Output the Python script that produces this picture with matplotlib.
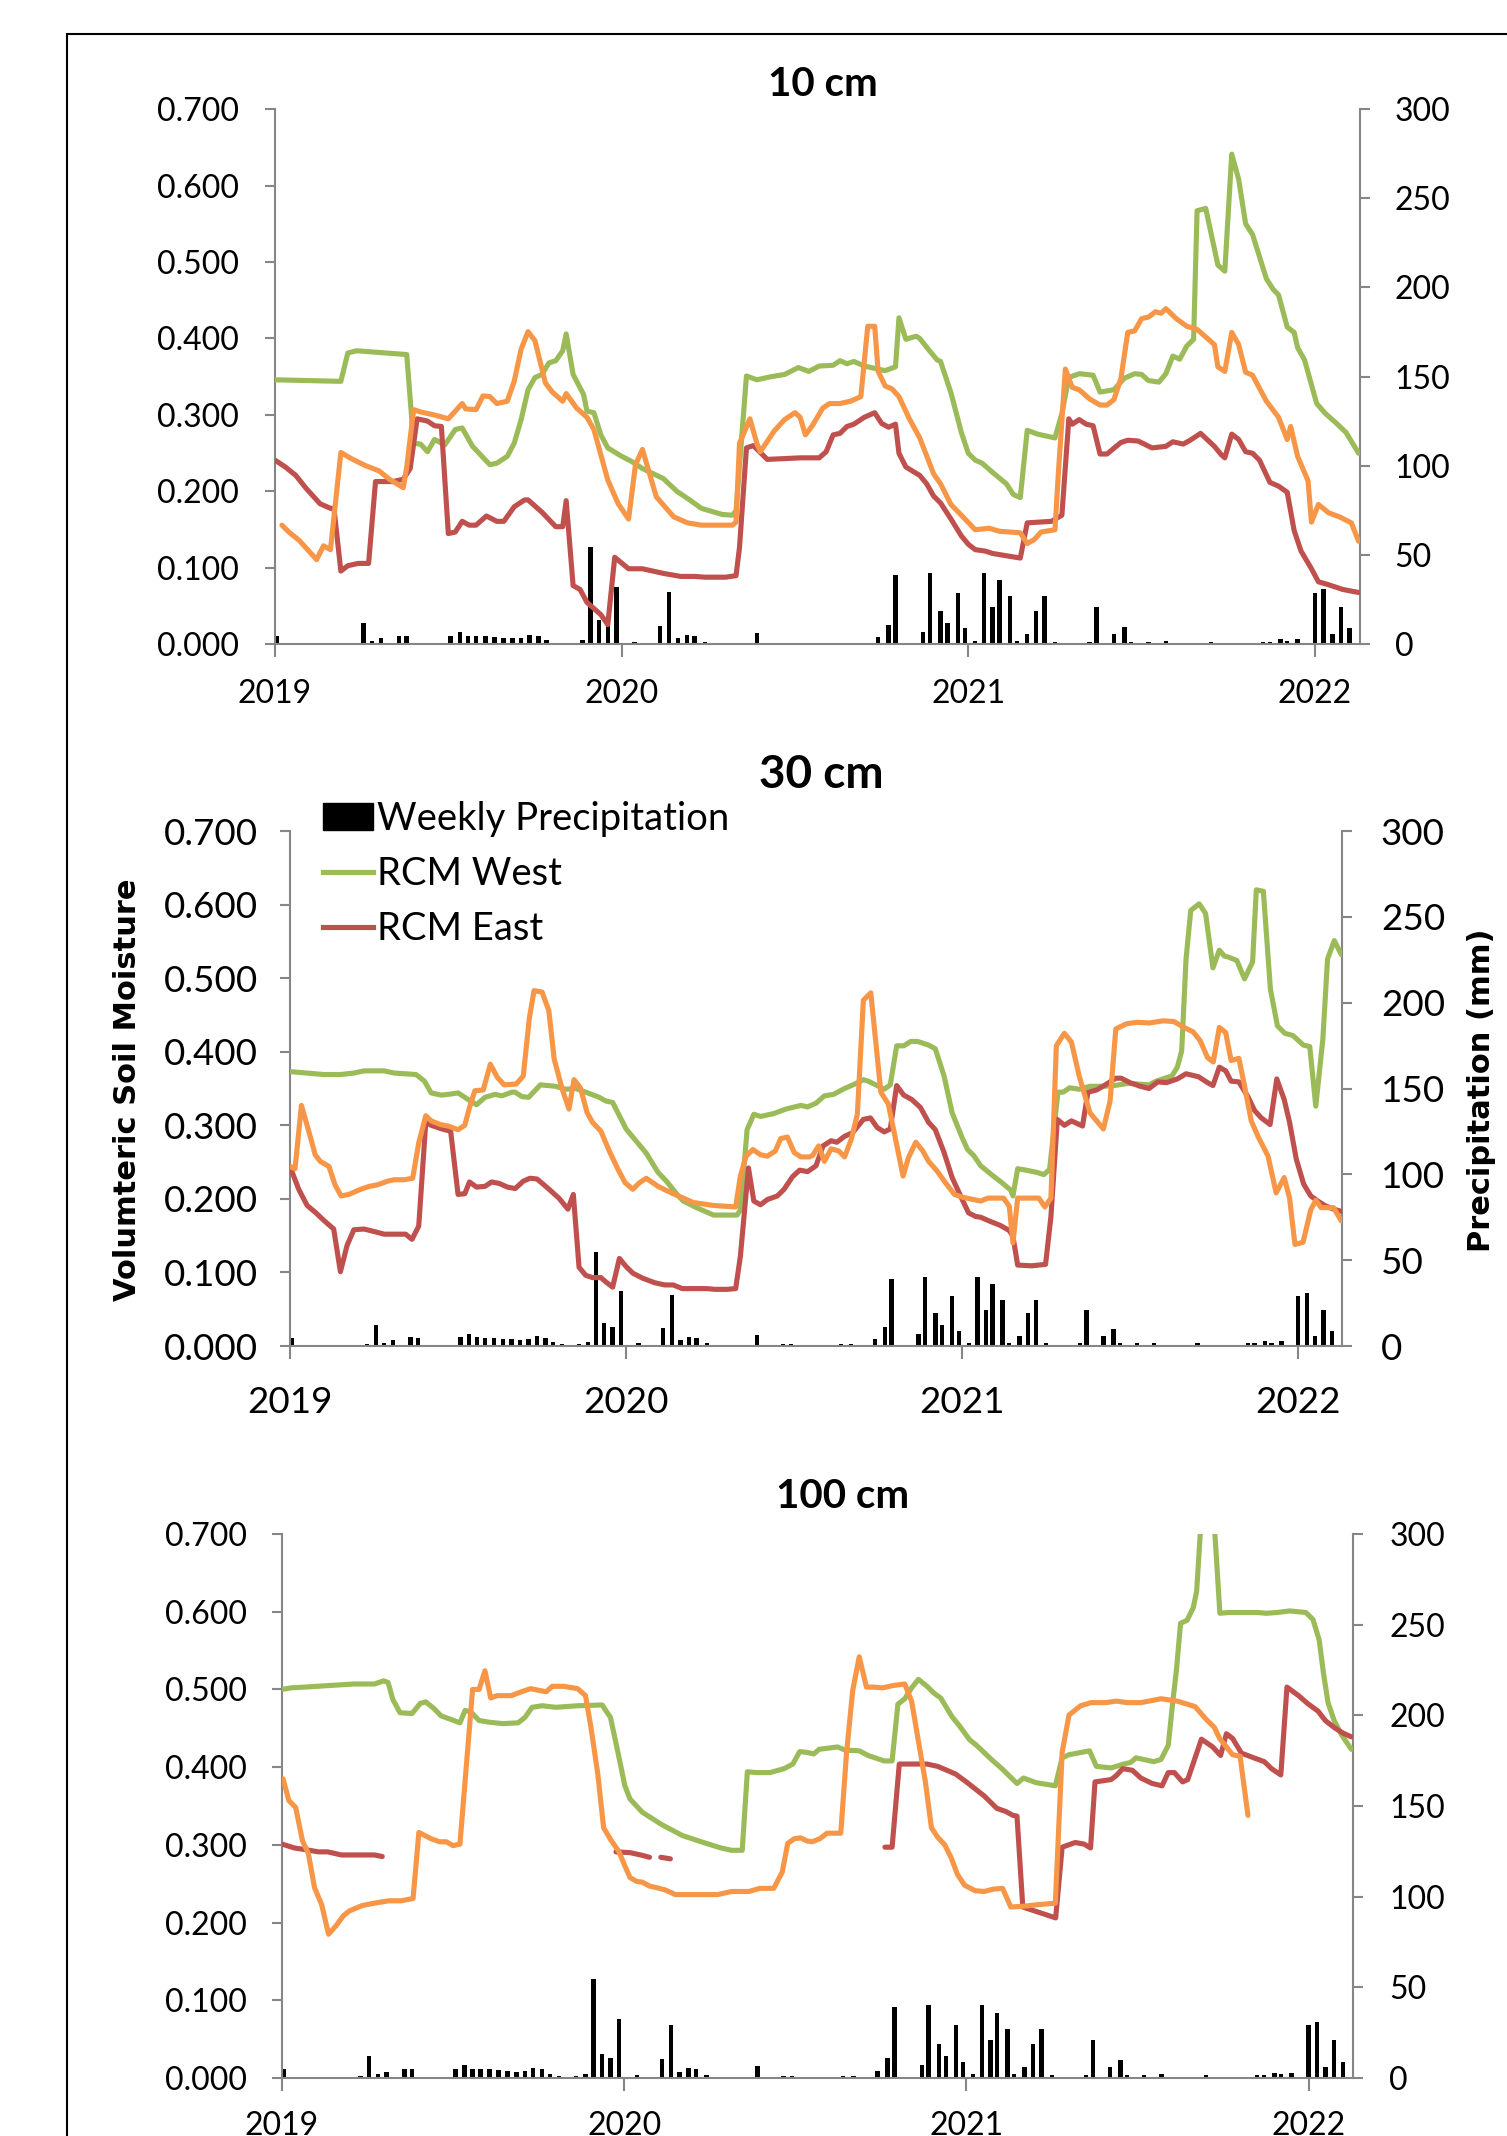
import numpy as np
import matplotlib
matplotlib.use("Agg")
import matplotlib.pyplot as plt
from matplotlib.patches import Patch, Rectangle
from matplotlib.lines import Line2D
from matplotlib.ticker import FormatStrFormatter

GREEN = "#9BBB59"
RED = "#C0504D"
ORANGE = "#F79646"
GREY = "#868686"
nan = np.nan

# weekly precipitation (mm), same in all three panels
precip_t = [2019.005, 2019.23, 2019.255, 2019.28, 2019.306, 2019.358, 2019.38, 2019.507,
            2019.533, 2019.557, 2019.58, 2019.607, 2019.633, 2019.659, 2019.685, 2019.71,
            2019.734, 2019.76, 2019.783, 2019.81, 2019.86, 2019.887, 2019.91, 2019.935,
            2019.96, 2019.985, 2020.037, 2020.11, 2020.137, 2020.162, 2020.188, 2020.21,
            2020.24, 2020.39, 2020.466, 2020.49, 2020.64, 2020.67, 2020.74, 2020.77,
            2020.79, 2020.87, 2020.89, 2020.92, 2020.94, 2020.97, 2020.99, 2021.02,
            2021.045, 2021.07, 2021.09, 2021.12, 2021.14, 2021.17, 2021.195, 2021.22,
            2021.25, 2021.35, 2021.37, 2021.42, 2021.45, 2021.47, 2021.52, 2021.57,
            2021.70, 2021.85, 2021.87, 2021.90, 2021.92, 2021.95, 2022.00, 2022.025,
            2022.05, 2022.075, 2022.10]
precip_mm = [4.7, 1, 12, 2, 3.4, 5, 4.7, 5,
             7, 5, 4.7, 4.7, 4.3, 3.8, 3.4, 3.8,
             5.6, 4.7, 2.3, 1, 1, 2.3, 54.5, 13.5,
             11.3, 32.3, 1.5, 10.3, 29.5, 3.4, 5.3, 4.7,
             1.5, 6.6, 1, 1, 1, 1, 4, 11,
             39, 7, 40, 19, 12, 29, 9, 2,
             40, 21, 36, 27, 2, 6, 19, 27,
             1.5, 1.5, 21, 6, 10, 1.5, 1.5, 2,
             1.5, 1.5, 1.5, 3, 2, 3, 29, 31,
             6, 21, 9]

# ---- 10 cm ----
west_10 = [(2019.00, 0.346), (2019.19, 0.344), (2019.21, 0.381), (2019.235, 0.384), (2019.38, 0.379),
           (2019.40, 0.263), (2019.42, 0.262), (2019.44, 0.252), (2019.46, 0.268), (2019.49, 0.261),
           (2019.52, 0.281), (2019.54, 0.283), (2019.57, 0.259), (2019.62, 0.235), (2019.64, 0.237),
           (2019.67, 0.246), (2019.69, 0.263), (2019.71, 0.294), (2019.73, 0.333), (2019.75, 0.349),
           (2019.77, 0.353), (2019.79, 0.368), (2019.81, 0.371), (2019.83, 0.384), (2019.84, 0.406),
           (2019.86, 0.353), (2019.89, 0.327), (2019.90, 0.305), (2019.92, 0.303), (2019.94, 0.274),
           (2019.96, 0.257), (2020.00, 0.246), (2020.03, 0.239), (2020.06, 0.230), (2020.12, 0.217),
           (2020.16, 0.200), (2020.19, 0.191), (2020.23, 0.178), (2020.29, 0.170), (2020.32, 0.169),
           (2020.33, 0.175), (2020.36, 0.351), (2020.39, 0.346), (2020.43, 0.350), (2020.47, 0.353),
           (2020.51, 0.362), (2020.54, 0.357), (2020.57, 0.364), (2020.61, 0.365), (2020.63, 0.371),
           (2020.65, 0.367), (2020.67, 0.370), (2020.70, 0.364), (2020.76, 0.358), (2020.79, 0.363),
           (2020.80, 0.427), (2020.82, 0.399), (2020.85, 0.403), (2020.86, 0.400), (2020.89, 0.383),
           (2020.91, 0.372), (2020.92, 0.370), (2020.95, 0.329), (2020.98, 0.277), (2021.00, 0.250),
           (2021.02, 0.241), (2021.04, 0.237), (2021.07, 0.225), (2021.11, 0.210), (2021.13, 0.196),
           (2021.15, 0.192), (2021.17, 0.280), (2021.20, 0.275), (2021.25, 0.270), (2021.27, 0.302),
           (2021.29, 0.349), (2021.32, 0.354), (2021.36, 0.352), (2021.38, 0.330), (2021.42, 0.333),
           (2021.45, 0.348), (2021.48, 0.354), (2021.50, 0.353), (2021.52, 0.345), (2021.55, 0.343),
           (2021.57, 0.354), (2021.59, 0.377), (2021.61, 0.373), (2021.63, 0.390), (2021.65, 0.399),
           (2021.66, 0.567), (2021.685, 0.570), (2021.72, 0.496), (2021.74, 0.488), (2021.76, 0.641),
           (2021.78, 0.608), (2021.80, 0.550), (2021.82, 0.536), (2021.86, 0.478), (2021.88, 0.464),
           (2021.895, 0.457), (2021.92, 0.415), (2021.94, 0.408), (2021.95, 0.388), (2021.97, 0.372),
           (2022.005, 0.315), (2022.03, 0.302), (2022.06, 0.290), (2022.09, 0.277), (2022.126, 0.250)]

east_10 = [(2019.00, 0.241), (2019.03, 0.232), (2019.06, 0.221), (2019.09, 0.204), (2019.13, 0.184),
           (2019.16, 0.178), (2019.17, 0.178), (2019.19, 0.096), (2019.21, 0.103), (2019.24, 0.106),
           (2019.27, 0.106), (2019.29, 0.213), (2019.34, 0.213), (2019.37, 0.216), (2019.39, 0.230),
           (2019.41, 0.295), (2019.44, 0.292), (2019.46, 0.286), (2019.48, 0.285), (2019.50, 0.145),
           (2019.52, 0.147), (2019.54, 0.161), (2019.56, 0.156), (2019.58, 0.156), (2019.61, 0.168),
           (2019.64, 0.161), (2019.66, 0.161), (2019.69, 0.180), (2019.72, 0.189), (2019.73, 0.189),
           (2019.77, 0.173), (2019.81, 0.154), (2019.83, 0.154), (2019.84, 0.188), (2019.86, 0.077),
           (2019.88, 0.072), (2019.90, 0.055), (2019.94, 0.039), (2019.96, 0.026), (2019.98, 0.114),
           (2020.02, 0.099), (2020.06, 0.099), (2020.12, 0.093), (2020.17, 0.089), (2020.21, 0.089),
           (2020.24, 0.088), (2020.30, 0.088), (2020.33, 0.090), (2020.34, 0.127), (2020.36, 0.257),
           (2020.38, 0.260), (2020.42, 0.242), (2020.47, 0.243), (2020.515, 0.244), (2020.57, 0.244),
           (2020.59, 0.252), (2020.61, 0.274), (2020.63, 0.276), (2020.65, 0.285), (2020.67, 0.288),
           (2020.70, 0.297), (2020.73, 0.303), (2020.75, 0.289), (2020.77, 0.284), (2020.79, 0.288),
           (2020.80, 0.250), (2020.82, 0.232), (2020.86, 0.221), (2020.88, 0.210), (2020.90, 0.194),
           (2020.92, 0.185), (2020.95, 0.164), (2020.98, 0.142), (2021.00, 0.131), (2021.02, 0.124),
           (2021.05, 0.122), (2021.07, 0.119), (2021.15, 0.113), (2021.17, 0.159), (2021.24, 0.161),
           (2021.27, 0.169), (2021.29, 0.295), (2021.30, 0.288), (2021.32, 0.294), (2021.34, 0.288),
           (2021.36, 0.286), (2021.38, 0.249), (2021.40, 0.249), (2021.44, 0.264), (2021.46, 0.267),
           (2021.49, 0.266), (2021.53, 0.257), (2021.57, 0.259), (2021.59, 0.265), (2021.62, 0.262),
           (2021.64, 0.267), (2021.67, 0.276), (2021.71, 0.259), (2021.73, 0.248), (2021.74, 0.244),
           (2021.76, 0.275), (2021.78, 0.268), (2021.80, 0.252), (2021.82, 0.250), (2021.84, 0.241),
           (2021.87, 0.212), (2021.895, 0.207), (2021.92, 0.199), (2021.94, 0.149), (2021.96, 0.122),
           (2021.99, 0.099), (2022.01, 0.082), (2022.04, 0.078), (2022.08, 0.072), (2022.126, 0.068)]

orange_10 = [(2019.02, 0.156), (2019.04, 0.147), (2019.07, 0.136), (2019.10, 0.121), (2019.12, 0.111),
             (2019.14, 0.129), (2019.16, 0.124), (2019.19, 0.251), (2019.22, 0.243), (2019.26, 0.234),
             (2019.30, 0.227), (2019.33, 0.216), (2019.37, 0.205), (2019.38, 0.232), (2019.40, 0.307),
             (2019.42, 0.304), (2019.46, 0.300), (2019.50, 0.295), (2019.51, 0.300), (2019.54, 0.315),
             (2019.55, 0.308), (2019.58, 0.307), (2019.60, 0.325), (2019.62, 0.324), (2019.64, 0.315),
             (2019.67, 0.318), (2019.69, 0.344), (2019.71, 0.386), (2019.73, 0.409), (2019.75, 0.397),
             (2019.78, 0.342), (2019.80, 0.330), (2019.83, 0.318), (2019.84, 0.328), (2019.87, 0.309),
             (2019.90, 0.297), (2019.92, 0.281), (2019.96, 0.215), (2019.99, 0.184), (2020.02, 0.164),
             (2020.04, 0.235), (2020.06, 0.255), (2020.08, 0.224), (2020.10, 0.193), (2020.15, 0.167),
             (2020.19, 0.159), (2020.23, 0.156), (2020.32, 0.156), (2020.33, 0.160), (2020.34, 0.263),
             (2020.37, 0.295), (2020.39, 0.263), (2020.40, 0.252), (2020.44, 0.279), (2020.47, 0.294),
             (2020.50, 0.303), (2020.515, 0.297), (2020.53, 0.274), (2020.55, 0.286), (2020.58, 0.309),
             (2020.60, 0.315), (2020.63, 0.315), (2020.66, 0.318), (2020.69, 0.324), (2020.71, 0.416),
             (2020.73, 0.416), (2020.74, 0.357), (2020.76, 0.338), (2020.78, 0.334), (2020.80, 0.324),
             (2020.83, 0.295), (2020.86, 0.270), (2020.90, 0.223), (2020.92, 0.210), (2020.95, 0.183),
             (2020.98, 0.169), (2021.02, 0.150), (2021.06, 0.152), (2021.09, 0.148), (2021.15, 0.146),
             (2021.17, 0.132), (2021.19, 0.137), (2021.21, 0.147), (2021.25, 0.150), (2021.26, 0.225),
             (2021.28, 0.360), (2021.30, 0.336), (2021.32, 0.333), (2021.35, 0.321), (2021.38, 0.313),
             (2021.40, 0.313), (2021.42, 0.320), (2021.44, 0.347), (2021.46, 0.408), (2021.48, 0.410),
             (2021.50, 0.426), (2021.52, 0.428), (2021.54, 0.435), (2021.556, 0.433), (2021.57, 0.439),
             (2021.60, 0.426), (2021.63, 0.416), (2021.66, 0.412), (2021.71, 0.392), (2021.72, 0.363),
             (2021.74, 0.357), (2021.76, 0.408), (2021.78, 0.392), (2021.80, 0.356), (2021.82, 0.352),
             (2021.86, 0.318), (2021.895, 0.297), (2021.92, 0.268), (2021.93, 0.285), (2021.95, 0.246),
             (2021.98, 0.214), (2021.99, 0.160), (2022.01, 0.183), (2022.04, 0.172), (2022.07, 0.167),
             (2022.105, 0.159), (2022.126, 0.135)]

# ---- 30 cm ----
west_30 = [(2019.00, 0.373), (2019.05, 0.371), (2019.10, 0.369), (2019.15, 0.369), (2019.19, 0.371),
           (2019.22, 0.374), (2019.28, 0.374), (2019.31, 0.371), (2019.375, 0.369), (2019.40, 0.360),
           (2019.42, 0.344), (2019.45, 0.341), (2019.47, 0.342), (2019.50, 0.344), (2019.53, 0.335),
           (2019.555, 0.328), (2019.58, 0.338), (2019.61, 0.342), (2019.63, 0.340), (2019.66, 0.345),
           (2019.67, 0.345), (2019.69, 0.339), (2019.71, 0.338), (2019.745, 0.355), (2019.79, 0.353),
           (2019.82, 0.349), (2019.85, 0.350), (2019.88, 0.345), (2019.92, 0.338), (2019.94, 0.333),
           (2019.96, 0.331), (2020.00, 0.295), (2020.02, 0.284), (2020.06, 0.262), (2020.095, 0.236),
           (2020.12, 0.224), (2020.15, 0.207), (2020.17, 0.197), (2020.21, 0.188), (2020.26, 0.178),
           (2020.33, 0.178), (2020.34, 0.185), (2020.36, 0.294), (2020.38, 0.315), (2020.40, 0.312),
           (2020.44, 0.316), (2020.475, 0.322), (2020.52, 0.327), (2020.54, 0.325), (2020.565, 0.330),
           (2020.59, 0.340), (2020.617, 0.342), (2020.65, 0.350), (2020.68, 0.356), (2020.706, 0.362),
           (2020.72, 0.360), (2020.747, 0.354), (2020.768, 0.349), (2020.786, 0.355), (2020.805, 0.408),
           (2020.826, 0.408), (2020.847, 0.414), (2020.867, 0.414), (2020.90, 0.409), (2020.92, 0.404),
           (2020.946, 0.367), (2020.97, 0.317), (2021.00, 0.283), (2021.016, 0.267), (2021.034, 0.259),
           (2021.055, 0.245), (2021.087, 0.233), (2021.118, 0.222), (2021.144, 0.212), (2021.151, 0.204),
           (2021.165, 0.241), (2021.19, 0.239), (2021.222, 0.236), (2021.243, 0.233), (2021.26, 0.240),
           (2021.285, 0.345), (2021.30, 0.345), (2021.32, 0.351), (2021.348, 0.349), (2021.38, 0.353),
           (2021.42, 0.353), (2021.452, 0.354), (2021.494, 0.357), (2021.525, 0.356), (2021.556, 0.355),
           (2021.577, 0.360), (2021.603, 0.364), (2021.624, 0.367), (2021.64, 0.379), (2021.653, 0.401),
           (2021.666, 0.526), (2021.68, 0.592), (2021.705, 0.601), (2021.724, 0.588), (2021.746, 0.514),
           (2021.765, 0.538), (2021.78, 0.530), (2021.79, 0.529), (2021.817, 0.524), (2021.84, 0.499),
           (2021.864, 0.522), (2021.875, 0.620), (2021.896, 0.618), (2021.917, 0.485), (2021.938, 0.435),
           (2021.96, 0.425), (2021.984, 0.422), (2022.015, 0.409), (2022.034, 0.407), (2022.052, 0.326),
           (2022.073, 0.417), (2022.087, 0.526), (2022.107, 0.551), (2022.128, 0.532)]

east_30 = [(2019.00, 0.244), (2019.026, 0.213), (2019.051, 0.191), (2019.077, 0.181), (2019.10, 0.171),
           (2019.13, 0.159), (2019.15, 0.101), (2019.17, 0.137), (2019.19, 0.158), (2019.22, 0.159),
           (2019.247, 0.156), (2019.28, 0.152), (2019.344, 0.152), (2019.363, 0.145), (2019.383, 0.163),
           (2019.404, 0.304), (2019.42, 0.300), (2019.452, 0.295), (2019.478, 0.292), (2019.50, 0.206),
           (2019.52, 0.207), (2019.534, 0.223), (2019.555, 0.216), (2019.58, 0.217), (2019.60, 0.223),
           (2019.622, 0.221), (2019.647, 0.216), (2019.67, 0.214), (2019.694, 0.224), (2019.714, 0.228),
           (2019.735, 0.227), (2019.766, 0.215), (2019.80, 0.201), (2019.827, 0.186), (2019.843, 0.206),
           (2019.86, 0.107), (2019.88, 0.096), (2019.90, 0.093), (2019.925, 0.093), (2019.94, 0.087),
           (2019.96, 0.080), (2019.98, 0.119), (2020.00, 0.108), (2020.02, 0.099), (2020.05, 0.092),
           (2020.085, 0.086), (2020.115, 0.083), (2020.14, 0.083), (2020.167, 0.078), (2020.24, 0.078),
           (2020.264, 0.077), (2020.30, 0.077), (2020.326, 0.078), (2020.34, 0.122), (2020.364, 0.242),
           (2020.38, 0.197), (2020.40, 0.192), (2020.42, 0.199), (2020.45, 0.204), (2020.47, 0.213),
           (2020.495, 0.230), (2020.516, 0.239), (2020.54, 0.237), (2020.565, 0.245), (2020.586, 0.272),
           (2020.61, 0.279), (2020.627, 0.277), (2020.65, 0.285), (2020.674, 0.290), (2020.706, 0.308),
           (2020.727, 0.310), (2020.747, 0.297), (2020.768, 0.291), (2020.786, 0.295), (2020.805, 0.354),
           (2020.826, 0.341), (2020.85, 0.335), (2020.876, 0.324), (2020.90, 0.304), (2020.92, 0.294),
           (2020.946, 0.263), (2020.97, 0.229), (2021.00, 0.199), (2021.019, 0.181), (2021.04, 0.176),
           (2021.055, 0.175), (2021.08, 0.170), (2021.113, 0.164), (2021.14, 0.157), (2021.151, 0.149),
           (2021.165, 0.110), (2021.207, 0.109), (2021.248, 0.111), (2021.264, 0.176), (2021.283, 0.308),
           (2021.304, 0.300), (2021.325, 0.306), (2021.358, 0.299), (2021.374, 0.345), (2021.40, 0.348),
           (2021.426, 0.355), (2021.457, 0.364), (2021.473, 0.364), (2021.499, 0.358), (2021.53, 0.353),
           (2021.556, 0.350), (2021.582, 0.359), (2021.608, 0.358), (2021.64, 0.363), (2021.666, 0.370),
           (2021.703, 0.366), (2021.73, 0.358), (2021.746, 0.354), (2021.765, 0.379), (2021.784, 0.374),
           (2021.80, 0.360), (2021.823, 0.359), (2021.85, 0.339), (2021.87, 0.320), (2021.89, 0.310),
           (2021.916, 0.301), (2021.936, 0.363), (2021.958, 0.335), (2021.974, 0.304), (2021.994, 0.254),
           (2022.016, 0.220), (2022.037, 0.204), (2022.058, 0.197), (2022.079, 0.191), (2022.105, 0.186),
           (2022.128, 0.183)]

orange_30 = [(2019.00, 0.244), (2019.015, 0.241), (2019.034, 0.327), (2019.057, 0.290), (2019.075, 0.260),
             (2019.09, 0.251), (2019.116, 0.244), (2019.134, 0.219), (2019.152, 0.204), (2019.175, 0.206),
             (2019.21, 0.213), (2019.236, 0.217), (2019.26, 0.219), (2019.29, 0.224), (2019.31, 0.226),
             (2019.34, 0.226), (2019.365, 0.228), (2019.383, 0.276), (2019.404, 0.313), (2019.42, 0.306),
             (2019.447, 0.301), (2019.47, 0.299), (2019.50, 0.294), (2019.52, 0.300), (2019.534, 0.324),
             (2019.55, 0.347), (2019.575, 0.348), (2019.596, 0.383), (2019.617, 0.365), (2019.637, 0.355),
             (2019.673, 0.356), (2019.694, 0.367), (2019.712, 0.445), (2019.726, 0.483), (2019.75, 0.481),
             (2019.77, 0.456), (2019.786, 0.390), (2019.81, 0.349), (2019.83, 0.322), (2019.845, 0.362),
             (2019.864, 0.351), (2019.884, 0.317), (2019.90, 0.304), (2019.925, 0.292), (2019.95, 0.265),
             (2019.976, 0.240), (2019.997, 0.222), (2020.02, 0.213), (2020.04, 0.222), (2020.06, 0.228),
             (2020.095, 0.217), (2020.135, 0.208), (2020.20, 0.195), (2020.26, 0.191), (2020.326, 0.189),
             (2020.34, 0.231), (2020.357, 0.258), (2020.377, 0.267), (2020.40, 0.260), (2020.42, 0.258),
             (2020.444, 0.265), (2020.46, 0.282), (2020.48, 0.284), (2020.50, 0.263), (2020.52, 0.257),
             (2020.547, 0.257), (2020.555, 0.259), (2020.573, 0.272), (2020.59, 0.251), (2020.61, 0.268),
             (2020.633, 0.265), (2020.65, 0.257), (2020.67, 0.281), (2020.688, 0.315), (2020.706, 0.470),
             (2020.728, 0.480), (2020.742, 0.417), (2020.758, 0.345), (2020.78, 0.329), (2020.80, 0.285),
             (2020.824, 0.231), (2020.84, 0.256), (2020.862, 0.277), (2020.883, 0.265), (2020.90, 0.251),
             (2020.925, 0.238), (2020.95, 0.222), (2020.977, 0.206), (2021.003, 0.202), (2021.034, 0.199),
             (2021.055, 0.197), (2021.076, 0.201), (2021.123, 0.201), (2021.14, 0.190), (2021.151, 0.140),
             (2021.165, 0.201), (2021.228, 0.201), (2021.246, 0.189), (2021.264, 0.201), (2021.28, 0.408),
             (2021.304, 0.425), (2021.325, 0.413), (2021.348, 0.367), (2021.38, 0.317), (2021.40, 0.306),
             (2021.42, 0.295), (2021.44, 0.333), (2021.457, 0.431), (2021.489, 0.438), (2021.52, 0.440),
             (2021.556, 0.439), (2021.598, 0.442), (2021.63, 0.441), (2021.66, 0.433), (2021.687, 0.427),
             (2021.708, 0.415), (2021.73, 0.392), (2021.747, 0.386), (2021.765, 0.433), (2021.784, 0.426),
             (2021.80, 0.388), (2021.823, 0.391), (2021.838, 0.358), (2021.86, 0.306), (2021.88, 0.285),
             (2021.91, 0.258), (2021.934, 0.208), (2021.958, 0.229), (2021.974, 0.201), (2021.99, 0.138),
             (2022.014, 0.141), (2022.037, 0.185), (2022.052, 0.198), (2022.068, 0.188), (2022.105, 0.188),
             (2022.128, 0.170)]

# ---- 100 cm ----
west_100 = [(2019.00, 0.500), (2019.026, 0.502), (2019.066, 0.503), (2019.138, 0.505), (2019.21, 0.507),
            (2019.27, 0.507), (2019.297, 0.511), (2019.31, 0.509), (2019.324, 0.487), (2019.345, 0.470),
            (2019.38, 0.469), (2019.404, 0.482), (2019.42, 0.484), (2019.445, 0.475), (2019.465, 0.466),
            (2019.496, 0.461), (2019.52, 0.457), (2019.535, 0.473), (2019.552, 0.471), (2019.576, 0.460),
            (2019.603, 0.458), (2019.644, 0.456), (2019.69, 0.457), (2019.71, 0.464), (2019.731, 0.477),
            (2019.76, 0.479), (2019.80, 0.477), (2019.864, 0.479), (2019.936, 0.480), (2019.946, 0.473),
            (2019.96, 0.464), (2019.987, 0.408), (2020.002, 0.376), (2020.017, 0.359), (2020.053, 0.342),
            (2020.11, 0.326), (2020.17, 0.312), (2020.232, 0.303), (2020.283, 0.296), (2020.314, 0.293),
            (2020.345, 0.293), (2020.36, 0.394), (2020.386, 0.393), (2020.426, 0.393), (2020.467, 0.398),
            (2020.493, 0.404), (2020.513, 0.420), (2020.534, 0.419), (2020.554, 0.417), (2020.57, 0.423),
            (2020.624, 0.426), (2020.645, 0.422), (2020.687, 0.421), (2020.713, 0.415), (2020.76, 0.408),
            (2020.783, 0.408), (2020.80, 0.481), (2020.82, 0.488), (2020.84, 0.502), (2020.86, 0.513),
            (2020.885, 0.504), (2020.906, 0.495), (2020.925, 0.489), (2020.958, 0.465), (2020.98, 0.453),
            (2021.01, 0.435), (2021.03, 0.428), (2021.073, 0.410), (2021.104, 0.398), (2021.148, 0.379),
            (2021.167, 0.386), (2021.204, 0.380), (2021.26, 0.376), (2021.28, 0.412), (2021.30, 0.416),
            (2021.36, 0.421), (2021.38, 0.401), (2021.423, 0.399), (2021.46, 0.404), (2021.48, 0.406),
            (2021.496, 0.412), (2021.548, 0.407), (2021.569, 0.410), (2021.59, 0.428), (2021.603, 0.483),
            (2021.614, 0.525), (2021.626, 0.585), (2021.645, 0.589), (2021.663, 0.605), (2021.673, 0.626),
            (2021.695, 0.780), (2021.715, 0.780), (2021.741, 0.598), (2021.767, 0.599), (2021.85, 0.599),
            (2021.877, 0.598), (2021.908, 0.599), (2021.945, 0.601), (2021.992, 0.599), (2022.013, 0.590),
            (2022.031, 0.564), (2022.044, 0.520), (2022.057, 0.483), (2022.075, 0.460), (2022.096, 0.442),
            (2022.125, 0.423)]

east_100 = [(2019.00, 0.301), (2019.036, 0.296), (2019.066, 0.294), (2019.107, 0.291), (2019.133, 0.291),
            (2019.174, 0.287), (2019.27, 0.287), (2019.293, 0.285), (2019.50, nan),
            (2019.976, 0.291), (2020.017, 0.290), (2020.048, 0.287), (2020.074, 0.284), (2020.09, nan),
            (2020.107, 0.284), (2020.135, 0.282), (2020.40, nan),
            (2020.762, 0.297), (2020.783, 0.297), (2020.804, 0.404), (2020.885, 0.404), (2020.916, 0.401),
            (2020.943, 0.396), (2020.969, 0.391), (2021.00, 0.381), (2021.026, 0.372), (2021.052, 0.363),
            (2021.089, 0.347), (2021.115, 0.343), (2021.136, 0.338), (2021.148, 0.337), (2021.165, 0.220),
            (2021.261, 0.206), (2021.28, 0.297), (2021.318, 0.303), (2021.344, 0.301), (2021.363, 0.296),
            (2021.376, 0.381), (2021.423, 0.384), (2021.438, 0.389), (2021.457, 0.398), (2021.485, 0.396),
            (2021.51, 0.386), (2021.543, 0.379), (2021.572, 0.376), (2021.59, 0.393), (2021.608, 0.393),
            (2021.632, 0.381), (2021.647, 0.384), (2021.687, 0.436), (2021.72, 0.426), (2021.743, 0.415),
            (2021.76, 0.443), (2021.778, 0.437), (2021.804, 0.418), (2021.84, 0.412), (2021.871, 0.407),
            (2021.892, 0.398), (2021.919, 0.390), (2021.937, 0.503), (2021.971, 0.492), (2021.997, 0.482),
            (2022.028, 0.472), (2022.049, 0.460), (2022.075, 0.451), (2022.10, 0.444), (2022.125, 0.439)]

orange_100 = [(2019.003, 0.385), (2019.02, 0.357), (2019.04, 0.348), (2019.06, 0.305), (2019.077, 0.289),
              (2019.095, 0.245), (2019.116, 0.223), (2019.136, 0.185), (2019.158, 0.196), (2019.18, 0.209),
              (2019.197, 0.215), (2019.235, 0.222), (2019.27, 0.225), (2019.312, 0.228), (2019.348, 0.228),
              (2019.383, 0.231), (2019.40, 0.316), (2019.435, 0.308), (2019.46, 0.304), (2019.48, 0.304),
              (2019.50, 0.299), (2019.52, 0.301), (2019.557, 0.500), (2019.576, 0.500), (2019.593, 0.524),
              (2019.61, 0.489), (2019.629, 0.492), (2019.67, 0.492), (2019.70, 0.497), (2019.726, 0.501),
              (2019.772, 0.497), (2019.79, 0.504), (2019.823, 0.504), (2019.864, 0.501), (2019.887, 0.492),
              (2019.903, 0.451), (2019.923, 0.391), (2019.94, 0.322), (2019.96, 0.307), (2019.985, 0.291),
              (2020.00, 0.275), (2020.017, 0.258), (2020.036, 0.253), (2020.053, 0.252), (2020.074, 0.247),
              (2020.094, 0.245), (2020.12, 0.242), (2020.15, 0.236), (2020.273, 0.236), (2020.314, 0.240),
              (2020.365, 0.240), (2020.396, 0.244), (2020.437, 0.244), (2020.462, 0.265), (2020.478, 0.302),
              (2020.498, 0.308), (2020.516, 0.309), (2020.534, 0.305), (2020.55, 0.304), (2020.572, 0.308),
              (2020.593, 0.315), (2020.633, 0.315), (2020.65, 0.419), (2020.668, 0.499), (2020.687, 0.542),
              (2020.708, 0.503), (2020.729, 0.503), (2020.755, 0.502), (2020.786, 0.505), (2020.82, 0.507),
              (2020.84, 0.485), (2020.864, 0.423), (2020.88, 0.382), (2020.898, 0.322), (2020.916, 0.310),
              (2020.937, 0.300), (2020.956, 0.283), (2020.974, 0.262), (2020.995, 0.248), (2021.026, 0.241),
              (2021.052, 0.240), (2021.078, 0.243), (2021.106, 0.244), (2021.13, 0.220), (2021.167, 0.221),
              (2021.209, 0.223), (2021.26, 0.225), (2021.27, 0.322), (2021.28, 0.419), (2021.30, 0.467),
              (2021.334, 0.479), (2021.365, 0.483), (2021.407, 0.483), (2021.438, 0.485), (2021.47, 0.483),
              (2021.51, 0.483), (2021.569, 0.488), (2021.616, 0.485), (2021.668, 0.478), (2021.70, 0.462),
              (2021.725, 0.451), (2021.74, 0.437), (2021.778, 0.416), (2021.80, 0.414), (2021.823, 0.338)]

year_ticks = [2019, 2020, 2021, 2022]

W, H = 1507, 2136
fig = plt.figure(figsize=(W / 100, H / 100), dpi=100)


def rect(left, top, right, bottom):
    return [left / W, 1 - bottom / H, (right - left) / W, (bottom - top) / H]


# outer frame, cut off at the right and bottom
fig.patches.append(Rectangle((67 / W, -0.2), 2.0, 1.2 - 34 / H, transform=fig.transFigure,
                             fill=False, edgecolor="black", linewidth=1.5))

panels = [
    dict(title="10 cm", pos=rect(275, 109, 1360, 644.5), tpos=(823, 85), series=(west_10, east_10, orange_10),
         fs=23, tfs=29, ypad=19, rpad=18, xpad=16),
    dict(title="30 cm", pos=rect(290, 831, 1342, 1346), tpos=(821, 775), series=(west_30, east_30, orange_30),
         fs=26.5, tfs=33, ypad=16, rpad=21, xpad=20),
    dict(title="100 cm", pos=rect(282, 1534, 1353, 2078), tpos=(843, 1496), series=(west_100, east_100, orange_100),
         fs=23, tfs=29, ypad=18, rpad=19, xpad=15),
]

FONT = ["Lato", "DejaVu Sans"]
LW = 3.7

axes = []
for p in panels:
    ax = fig.add_axes(p["pos"])
    axp = ax.twinx()
    ax.set_zorder(axp.get_zorder() + 1)
    ax.patch.set_visible(False)

    axp.bar(precip_t, precip_mm, width=0.013, color="black", zorder=2)

    for data, col, z in zip(p["series"], (GREEN, RED, ORANGE), (3, 4, 5)):
        t = [d[0] for d in data]
        v = [d[1] for d in data]
        ax.plot(t, v, color=col, lw=LW, solid_joinstyle="round", solid_capstyle="round", zorder=z)

    ax.set_xlim(2019.0, 2022.13)
    ax.set_ylim(0, 0.7)
    axp.set_ylim(0, 300)
    ax.set_yticks(np.arange(0, 0.701, 0.1))
    ax.yaxis.set_major_formatter(FormatStrFormatter("%.3f"))
    axp.set_yticks(np.arange(0, 301, 50))
    ax.set_xticks(year_ticks)
    ax.set_xticklabels([str(y) for y in year_ticks])

    for a in (ax, axp):
        for s in a.spines.values():
            s.set_visible(False)
            s.set_color(GREY)
            s.set_linewidth(1.5)
    ax.spines["left"].set_visible(True)
    ax.spines["bottom"].set_visible(True)
    axp.spines["right"].set_visible(True)

    ax.tick_params(axis="y", direction="out", length=7, width=1.5, color=GREY,
                   labelsize=p["fs"], pad=p["ypad"], labelcolor="black")
    ax.tick_params(axis="x", direction="out", length=9, width=1.5, color=GREY,
                   labelsize=p["fs"], pad=p["xpad"], labelcolor="black")
    axp.tick_params(axis="y", direction="out", length=7, width=1.5, color=GREY,
                    labelsize=p["fs"], pad=p["rpad"], labelcolor="black")
    for lab in ax.get_xticklabels() + ax.get_yticklabels() + axp.get_yticklabels():
        lab.set_family(FONT)

    fig.text(p["tpos"][0] / W, 1 - p["tpos"][1] / H, p["title"], ha="center", va="center",
             fontsize=p["tfs"], fontweight="bold", family=FONT)
    axes.append(ax)

# axis labels, centred on the middle panel
fig.text(127 / W, 1 - 1090 / H, "Volumteric Soil Moisture", rotation=90, ha="center", va="center",
         fontsize=22, fontweight="bold", family="DejaVu Sans")
fig.text(1481 / W, 1 - 1090 / H, "Precipitation (mm)", rotation=90, ha="center", va="center",
         fontsize=22, fontweight="bold", family="DejaVu Sans")

handles = [Patch(facecolor="black", edgecolor="black"),
           Line2D([], [], color=GREEN, lw=LW),
           Line2D([], [], color=RED, lw=LW)]
labels = ["Weekly Precipitation", "RCM West", "RCM East"]
leg = axes[1].legend(handles, labels, loc="upper left", bbox_to_anchor=(323 / W, 1 - 801 / H),
                     bbox_transform=fig.transFigure, frameon=False, borderpad=0, borderaxespad=0,
                     handlelength=1.3, handleheight=0.68, handletextpad=0.12, labelspacing=0.5,
                     prop={"family": FONT, "size": 27.5})

fig.savefig("out.png", dpi=100)
